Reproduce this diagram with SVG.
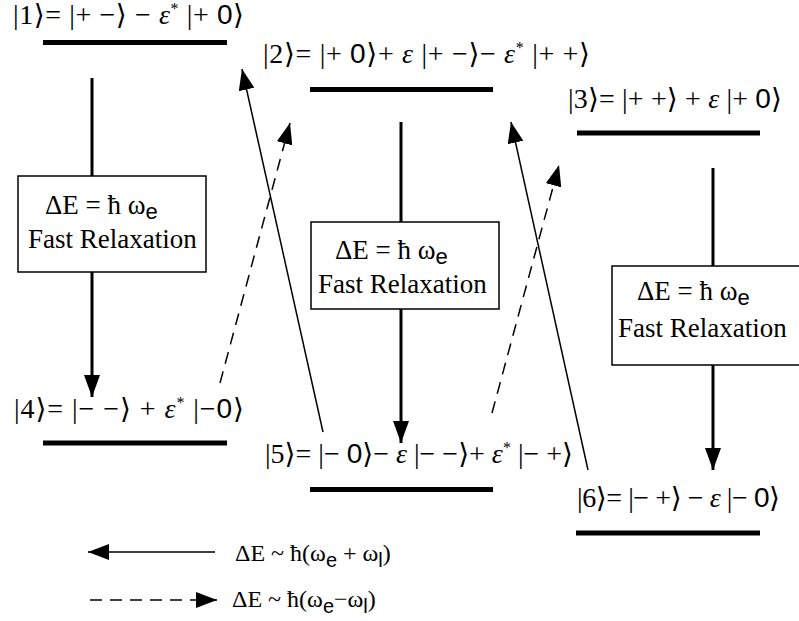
<svg xmlns="http://www.w3.org/2000/svg" width="799" height="621" viewBox="0 0 799 621">
<defs>
<style>
.ket{font-family:"Liberation Serif","Times New Roman","DejaVu Serif",serif;font-size:28px;fill:#000}
.eps{font-style:italic}
.sup{font-size:16px}
.sans{font-family:"Liberation Sans","DejaVu Sans",sans-serif}
.box{fill:#fff;stroke:#000;stroke-width:1.5}
.bt{font-family:"Liberation Serif","Times New Roman","DejaVu Serif",serif;font-size:27px;fill:#000}
.sub{font-family:"Liberation Sans","DejaVu Sans",sans-serif;font-size:22px}
.lg{font-family:"Liberation Serif","Times New Roman","DejaVu Serif",serif;font-size:24px;fill:#000}
.lsub{font-family:"Liberation Sans","DejaVu Sans",sans-serif;font-size:20px}
.bar{stroke:#000;stroke-width:5}
.vert{stroke:#000;stroke-width:3;fill:none}
.diag{stroke:#000;stroke-width:1.5;fill:none}
.dash{stroke:#000;stroke-width:1.5;fill:none;stroke-dasharray:12 8}
</style>
<marker id="bigHead" markerUnits="userSpaceOnUse" markerWidth="24" markerHeight="16" refX="22" refY="8" orient="auto">
<path d="M0,0 L22,8 L0,16 Z" fill="#000"/>
</marker>
<marker id="head" markerUnits="userSpaceOnUse" markerWidth="22" markerHeight="16" refX="21" refY="8" orient="auto">
<path d="M0,0 L21,8 L0,16 Z" fill="#000"/>
</marker>
</defs>
<rect width="799" height="621" fill="#fff"/>

<g id="connectors">
<line class="vert" x1="92" y1="78" x2="92" y2="176"/>
<line class="vert" x1="92" y1="272" x2="92" y2="397" marker-end="url(#bigHead)"/>
<line class="vert" x1="401" y1="122" x2="401" y2="222"/>
<line class="vert" x1="401" y1="309" x2="401" y2="443" marker-end="url(#bigHead)"/>
<line class="vert" x1="713" y1="168" x2="713" y2="266"/>
<line class="vert" x1="713" y1="365" x2="713" y2="470" marker-end="url(#bigHead)"/>
<line class="diag" x1="323" y1="432" x2="242" y2="69" marker-end="url(#head)"/>
<line class="diag" x1="588" y1="470" x2="511" y2="122" marker-end="url(#head)"/>
<line class="dash" x1="220" y1="383" x2="290" y2="123" marker-end="url(#head)"/>
<line class="dash" x1="492" y1="413" x2="559" y2="165" marker-end="url(#head)"/>
</g>

<g id="level1">
<line class="bar" x1="43" y1="42.5" x2="227" y2="42.5"/>
<text class="ket" x="13" y="24" textLength="231" lengthAdjust="spacing">|1⟩= |+ −⟩ − <tspan class="eps">ε</tspan><tspan class="sup" dy="-10">*</tspan><tspan dy="10"> |+ </tspan><tspan class="sans">0</tspan>⟩</text>
</g>
<g id="level2">
<line class="bar" x1="310" y1="89.5" x2="493" y2="89.5"/>
<text class="ket" x="263" y="63" textLength="327" lengthAdjust="spacing">|2⟩= |+ <tspan class="sans">0</tspan>⟩+ <tspan class="eps">ε</tspan> |+ −⟩− <tspan class="eps">ε</tspan><tspan class="sup" dy="-10">*</tspan><tspan dy="10"> |+ +⟩</tspan></text>
</g>
<g id="level3">
<line class="bar" x1="577" y1="133" x2="760" y2="133"/>
<text class="ket" x="568" y="108" textLength="214" lengthAdjust="spacing">|3⟩= |+ +⟩ + <tspan class="eps">ε</tspan> |+ <tspan class="sans">0</tspan>⟩</text>
</g>
<g id="level4">
<line class="bar" x1="43" y1="443" x2="227" y2="443"/>
<text class="ket" x="14" y="418" textLength="230" lengthAdjust="spacing">|4⟩= |− −⟩ + <tspan class="eps">ε</tspan><tspan class="sup" dy="-10">*</tspan><tspan dy="10"> |−</tspan><tspan class="sans">0</tspan>⟩</text>
</g>
<g id="level5">
<line class="bar" x1="310" y1="489.5" x2="493" y2="489.5"/>
<text class="ket" x="265" y="463" textLength="308" lengthAdjust="spacing">|5⟩= |− <tspan class="sans">0</tspan>⟩− <tspan class="eps">ε</tspan> |− −⟩+ <tspan class="eps">ε</tspan><tspan class="sup" dy="-10">*</tspan><tspan dy="10"> |− +⟩</tspan></text>
</g>
<g id="level6">
<line class="bar" x1="576" y1="533" x2="760" y2="533"/>
<text class="ket" x="577" y="507" textLength="203" lengthAdjust="spacing">|6⟩= |− +⟩ − <tspan class="eps">ε</tspan> |− <tspan class="sans">0</tspan>⟩</text>
</g>

<g id="relax1">
<rect class="box" x="18" y="176" width="188" height="96"/>
<text class="bt" x="45" y="214">ΔE = ħ ω<tspan class="sub" dy="5">e</tspan></text>
<text class="bt" x="28" y="248">Fast Relaxation</text>
</g>
<g id="relax2">
<rect class="box" x="311" y="222" width="188" height="87"/>
<text class="bt" x="335" y="259">ΔE = ħ ω<tspan class="sub" dy="5">e</tspan></text>
<text class="bt" x="318" y="293">Fast Relaxation</text>
</g>
<g id="relax3">
<rect class="box" x="612" y="266" width="200" height="99"/>
<text class="bt" x="637" y="300">ΔE = ħ ω<tspan class="sub" dy="5">e</tspan></text>
<text class="bt" x="618" y="337">Fast Relaxation</text>
</g>

<g id="legend">
<line class="diag" x1="215" y1="552" x2="88" y2="552" marker-end="url(#head)"/>
<text class="lg" x="235" y="561">ΔE ~ ħ(ω<tspan class="lsub" dy="6">e</tspan><tspan dy="-6"> + ω</tspan><tspan class="lsub" dy="6">l</tspan><tspan dy="-6">)</tspan></text>
<line class="dash" x1="90" y1="600" x2="217" y2="600" marker-end="url(#head)"/>
<text class="lg" x="232" y="607">ΔE ~ ħ(ω<tspan class="lsub" dy="6">e</tspan><tspan dy="-6">−ω</tspan><tspan class="lsub" dy="6">l</tspan><tspan dy="-6">)</tspan></text>
</g>
</svg>
